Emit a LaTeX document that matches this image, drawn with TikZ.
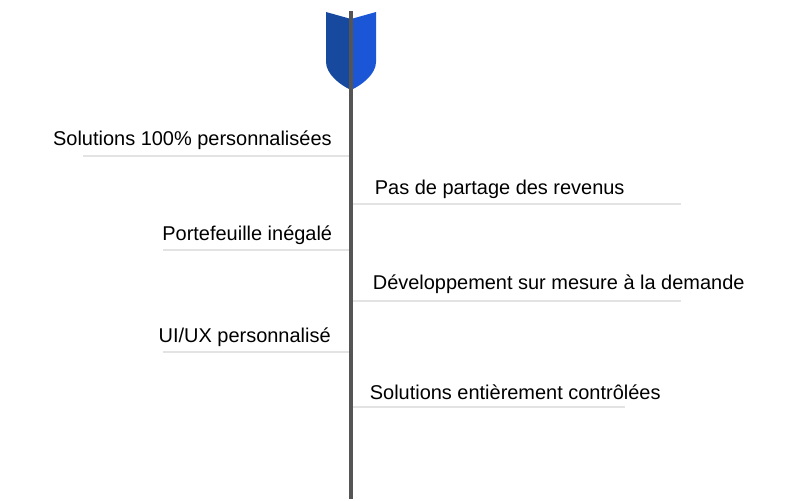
\documentclass[tikz,border=0pt]{standalone}
\usepackage{fontspec}
\setmainfont{Liberation Sans}
\usetikzlibrary{positioning,calc}
\definecolor{shaftgray}{HTML}{555555}
\definecolor{rulegray}{HTML}{E3E3E3}
\definecolor{fletchdark}{HTML}{174A9F}
\definecolor{fletchlight}{HTML}{1A56D6}
\tikzstyle{label} = [inner sep=0pt, font=\fontsize{11.36pt}{13pt}\selectfont, text=black]
\tikzstyle{rule} = [draw=rulegray, line width=2*0.567pt]

\begin{document}
\begin{tikzpicture}[x=0.02cm, y=-0.02cm]
  \useasboundingbox (0,0) rectangle (790,500);
  % fletching
  \fill [fletchdark] (326,12) -- (351,19) -- (351,90) .. controls (340,85) and (326,74) .. (326,62) -- cycle;
  \fill [fletchlight] (376,12) -- (351,19) -- (351,90) .. controls (362,85) and (376,74) .. (376,62) -- cycle;

  \coordinate (top) at (351,11);
  \coordinate (bottom) at (351,499);

  % left side
  \node [label, anchor=east] (perso) at (332,140) {Solutions 100\% personnalisées};
  \node [label, anchor=east] (porte) at (332.5,235) {Portefeuille inégalé};
  \node [label, anchor=east] (uiux) at (331,337) {UI/UX personnalisé};
  % right side
  \node [label, anchor=west] (rev) at (374.5,189) {Pas de partage des revenus};
  \node [label, anchor=west] (dev) at (372.5,284) {Développement sur mesure à la demande};
  \node [label, anchor=west] (ctrl) at (369.5,392) {Solutions entièrement contrôlées};

  \coordinate (perso a) at (83,156);
  \coordinate (perso b) at (351,156);
  \coordinate (porte a) at (163,250);
  \coordinate (porte b) at (351,250);
  \coordinate (uiux a) at (163,352);
  \coordinate (uiux b) at (351,352);
  \coordinate (rev a) at (351,204);
  \coordinate (rev b) at (681,204);
  \coordinate (dev a) at (351,301);
  \coordinate (dev b) at (681,301);
  \coordinate (ctrl a) at (351,407);
  \coordinate (ctrl b) at (625,407);

  \draw [rule] (perso a) -- (perso b);
  \draw [rule] (porte a) -- (porte b);
  \draw [rule] (uiux a) -- (uiux b);
  \draw [rule] (rev a) -- (rev b);
  \draw [rule] (dev a) -- (dev b);
  \draw [rule] (ctrl a) -- (ctrl b);

  \draw [draw=shaftgray, line width=4*0.567pt] (top) -- (bottom);
\end{tikzpicture}
\end{document}
